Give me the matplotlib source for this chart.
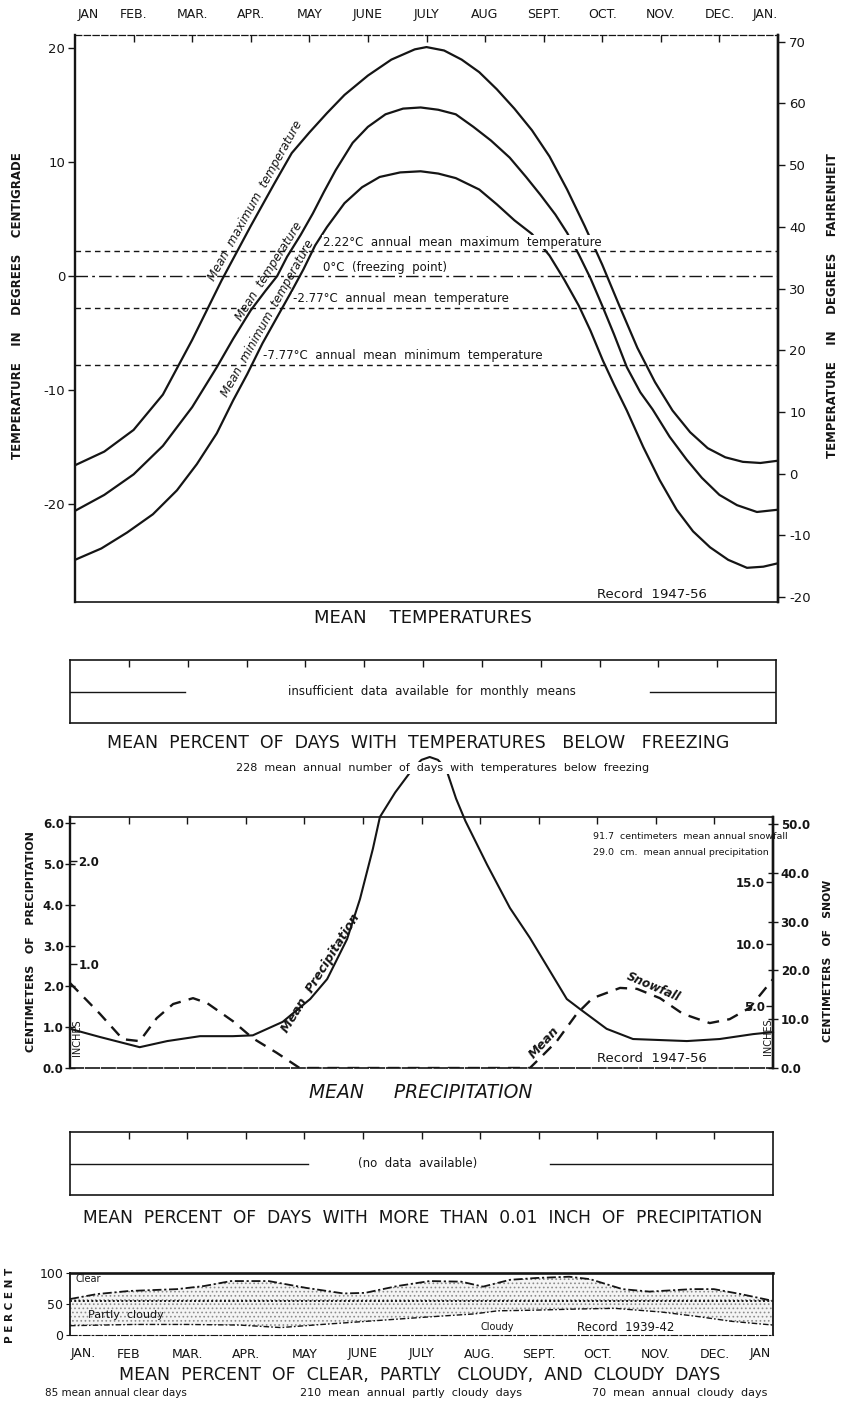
import numpy as np
import matplotlib
matplotlib.use("Agg")
from matplotlib import pyplot as plt

plt.rcParams["font.family"] = ["DejaVu Sans"]
plt.rcParams["hatch.linewidth"] = 0.7
plt.rcParams["hatch.color"] = "#8c8c8c"

W, H = 842, 1413
INK = "#151515"

# ---------------- data ----------------
months_top = ["JAN", "FEB.", "MAR.", "APR.", "MAY", "JUNE", "JULY", "AUG",
              "SEPT.", "OCT.", "NOV.", "DEC.", "JAN."]
months_bottom = ["JAN.", "FEB", "MAR.", "APR.", "MAY", "JUNE", "JULY", "AUG.",
                 "SEPT.", "OCT.", "NOV.", "DEC.", "JAN"]

# month position: 0 = JAN ... 12 = following JAN ; values in deg C
tmax_m = [0.0, 0.5, 1.0, 1.5, 2.0, 2.5, 3.0, 3.4, 3.7, 4.0, 4.3, 4.6, 5.0,
          5.4, 5.8, 6.0, 6.3, 6.6, 6.9, 7.2, 7.5, 7.8, 8.1, 8.4, 8.7, 9.0,
          9.3, 9.6, 9.9, 10.2, 10.5, 10.8, 11.1, 11.4, 11.7, 12.0]
tmax_c = [-16.6, -15.4, -13.5, -10.4, -5.6, -0.4, 4.4, 8.1, 10.8, 12.6, 14.3,
          15.9, 17.6, 19.0, 19.9, 20.1, 19.8, 19.0, 17.9, 16.4, 14.7, 12.8,
          10.5, 7.6, 4.4, 1.0, -2.7, -6.3, -9.3, -11.8, -13.7, -15.1, -15.9,
          -16.3, -16.4, -16.2]

tmean_m = [0.0, 0.5, 1.0, 1.5, 2.0, 2.42, 2.7, 3.0, 3.25, 3.45, 3.62, 3.85,
           4.06, 4.25, 4.45, 4.74, 5.0, 5.3, 5.6, 5.9, 6.2, 6.5, 6.8, 7.1,
           7.42, 7.7, 7.95, 8.2, 8.4, 8.6, 8.8, 9.0, 9.2, 9.42, 9.65, 9.86,
           10.15, 10.44, 10.7, 11.0, 11.3, 11.64, 12.0]
tmean_c = [-20.6, -19.2, -17.4, -14.9, -11.5, -8.0, -5.5, -3.0, -1.3, 0.0,
           1.7, 3.6, 5.5, 7.4, 9.3, 11.7, 13.1, 14.2, 14.7, 14.8, 14.6, 14.2,
           13.1, 11.9, 10.4, 8.7, 7.1, 5.4, 3.8, 1.9, -0.2, -2.6, -5.1, -8.0,
           -10.2, -11.7, -14.1, -16.1, -17.7, -19.2, -20.1, -20.7, -20.5]

tmin_m = [0.0, 0.45, 0.89, 1.33, 1.74, 2.08, 2.42, 2.7, 2.94, 3.2, 3.45,
          3.7, 3.9, 4.1, 4.3, 4.6, 4.9, 5.2, 5.55, 5.9, 6.2, 6.5, 6.9, 7.2,
          7.5, 7.8, 8.1, 8.35, 8.6, 8.8, 9.01, 9.2, 9.42, 9.7, 9.98, 10.27,
          10.55, 10.84, 11.15, 11.47, 11.75, 12.0]
tmin_c = [-24.9, -23.9, -22.5, -20.9, -18.8, -16.5, -13.8, -10.9, -8.6, -5.9,
          -3.6, -1.3, 0.6, 2.7, 4.3, 6.4, 7.8, 8.7, 9.1, 9.2, 9.0, 8.6, 7.6,
          6.3, 4.9, 3.7, 1.8, -0.3, -2.6, -4.8, -7.4, -9.5, -11.8, -15.0,
          -17.9, -20.5, -22.4, -23.8, -24.9, -25.6, -25.5, -25.2]

annual_values = [2.22, 0.0, -2.77, -7.77]
annual_labels = ["2.22°C  annual  mean  maximum  temperature",
                 "0°C  (freezing  point)",
                 "-2.77°C  annual  mean  temperature",
                 "-7.77°C  annual  mean  minimum  temperature"]
celsius_ticks = [20, 10, 0, -10, -20]
fahr_ticks = [70, 60, 50, 40, 30, 20, 10, 0, -10, -20]

# precipitation (cm) and snowfall (cm)
precip_m = [0.00, 0.51, 1.19, 1.66, 2.22, 2.78, 3.12, 3.63, 4.10, 4.39, 4.73,
            4.95, 5.17, 5.29, 5.55, 5.85, 6.0, 6.14, 6.28, 6.42, 6.59, 6.75,
            7.12, 7.51, 7.85, 8.14, 8.48, 8.70, 9.16, 9.61, 10.53, 11.09,
            11.66, 12.00]
precip_cm = [0.96, 0.76, 0.51, 0.66, 0.78, 0.78, 0.80, 1.13, 1.69, 2.18, 3.16,
             4.14, 5.37, 6.15, 6.75, 7.33, 7.55, 7.62, 7.55, 7.33, 6.60, 6.05,
             4.98, 3.92, 3.19, 2.50, 1.69, 1.45, 0.96, 0.71, 0.66, 0.71, 0.83,
             0.88]

snow_m = [0.00, 0.51, 0.90, 1.19, 1.48, 1.76, 2.10, 2.34, 2.78, 3.12, 3.53,
          3.92, 7.85, 8.02, 8.31, 8.65, 8.92, 9.39, 9.68, 10.07, 10.46, 10.92,
          11.26, 11.60, 12.00]
snow_cm = [17.4, 11.1, 5.9, 5.5, 10.2, 13.1, 14.3, 13.3, 9.6, 6.1, 3.1,
           0.0, 0.0, 2.0, 5.5, 11.1, 14.3, 16.4, 16.2, 14.3, 11.1, 9.2,
           10.0, 12.3, 18.2]

precip_ticks = [0, 1, 2, 3, 4, 5, 6]
precip_tick_labels = ["0.0", "1.0", "2.0", "3.0", "4.0", "5.0", "6.0"]
precip_inch_ticks = [1.0, 2.0]
snow_ticks = [0, 10, 20, 30, 40, 50]
snow_tick_labels = ["0.0", "10.0", "20.0", "30.0", "40.0", "50.0"]
snow_inch_ticks = [5.0, 10.0, 15.0]

# sky cover (percent)
cloud_top_m = [0.00, 0.46, 1.01, 1.83, 2.29, 2.75, 3.39, 4.03, 4.67, 5.04,
               5.59, 6.14, 6.68, 7.05, 7.51, 7.97, 8.52, 8.88, 9.43, 9.89,
               10.62, 10.99, 11.45, 12.00]
cloud_top_pct = [58, 66, 71, 74, 79, 87, 87, 76, 67, 68, 79, 87, 86, 78, 89,
                 92, 94, 90, 74, 70, 74, 74, 66, 55]
cloud_bot_m = [0.0, 1.1, 2.0, 2.9, 3.6, 4.3, 5.2, 6.1, 6.9, 7.3, 7.9, 8.7,
               9.3, 10.1, 10.7, 11.3, 12.0]
cloud_bot_pct = [15, 17, 17, 16, 12, 17, 23, 29, 34, 39, 40, 42, 43, 37, 30,
                 22, 16]
cloud_ref = 55

# "no data" stretches drawn in the empty boxes (month positions)
freeze_segments = [(0.0, 1.96), (9.86, 12.0)]
wetdays_segments = [(0.0, 4.07), (8.2, 12.0)]

# layout
month_ticks = list(range(1, 12))
month_label_pos = [0.22, 1, 2, 3, 4, 5, 6, 7, 8, 9, 10, 11, 11.78]
annual_label_x = [4.23, 4.23, 3.72, 3.21]

fig = plt.figure(figsize=(W / 100, H / 100), dpi=100)


def axes_px(left, top, right, bottom):
    return fig.add_axes([left / W, 1 - bottom / H, (right - left) / W,
                         (bottom - top) / H])


def fig_text(x, y, s, **kw):
    kw.setdefault("ha", "center")
    kw.setdefault("va", "center")
    kw.setdefault("color", INK)
    fig.text(x / W, 1 - y / H, s, **kw)


def curve_label(ax, xs, ys, at, text, offset, **kw):
    # text laid along a curve, shifted `offset` pixels to its left side
    p0 = ax.transData.transform((at - 0.2, np.interp(at - 0.2, xs, ys)))
    p1 = ax.transData.transform((at + 0.2, np.interp(at + 0.2, xs, ys)))
    ang = np.arctan2(p1[1] - p0[1], p1[0] - p0[0])
    c = ax.transData.transform((at, np.interp(at, xs, ys)))
    c = c + offset * np.array([-np.sin(ang), np.cos(ang)])
    x, y = ax.transData.inverted().transform(c)
    ax.text(x, y, text, rotation=np.degrees(ang), rotation_mode="anchor",
            ha="center", va="center", color=INK, **kw)


def month_frame(ax):
    ax.set_xlim(0, 12)
    ax.set_xticks(month_ticks)
    ax.tick_params(axis="x", top=True, bottom=False, direction="in",
                   length=5, width=1, labeltop=False, labelbottom=False,
                   color=INK)
    for side in ax.spines:
        ax.spines[side].set_color(INK)


# ---------------- mean temperatures ----------------
ax1 = axes_px(75, 35, 778, 602)
month_frame(ax1)
ax1.set_ylim(-28.6, 21.16)
ax1.spines["top"].set_linestyle((0, (5, 2)))
ax1.spines["top"].set_linewidth(0.9)
ax1.spines["left"].set_linewidth(1.7)
ax1.spines["right"].set_linewidth(1.7)
ax1.spines["bottom"].set_linewidth(1.2)
ax1.set_yticks(celsius_ticks, [str(v) for v in celsius_ticks])
ax1.tick_params(axis="y", direction="out", length=5, width=1, labelsize=9.5,
                pad=2, colors=INK)

top = ax1.secondary_xaxis("top")
top.set_xticks(month_label_pos, months_top)
top.tick_params(length=0, pad=10, labelsize=9, colors=INK)
top.spines["top"].set_visible(False)

for xs, ys in [(tmax_m, tmax_c), (tmean_m, tmean_c), (tmin_m, tmin_c)]:
    ax1.plot(xs, ys, color=INK, lw=1.6, zorder=3, solid_joinstyle="round")

styles = [(0, (4, 3)), (0, (9, 3, 2, 3)), (0, (4, 3)), (0, (4, 3))]
for val, lab, lx, ls in zip(annual_values, annual_labels, annual_label_x, styles):
    ax1.axhline(val, color=INK, lw=1.0, ls=ls, zorder=2)
    ax1.text(lx, val + 0.2, lab, fontsize=8.5, ha="left", va="bottom",
             color=INK, zorder=4,
             bbox=dict(fc="white", ec="none", pad=0.3))

curve_label(ax1, tmax_m, tmax_c, 3.2, "Mean  maximum  temperature", 8,
            fontsize=8.5, style="italic")
curve_label(ax1, tmean_m, tmean_c, 3.45, "Mean  temperature", 9,
            fontsize=8.5, style="italic")
curve_label(ax1, tmin_m, tmin_c, 3.4, "Mean  minimum  temperature", 8,
            fontsize=8.5, style="italic")
ax1.text(8.91, -27.97, "Record  1947-56", fontsize=9.5, ha="left",
         va="center", color=INK)

axF = ax1.twinx()
axF.set_ylim(-20.8, 71.1)
axF.set_yticks(fahr_ticks, [str(v) for v in fahr_ticks])
axF.tick_params(axis="y", direction="out", length=5, width=1, labelsize=9.5,
                pad=3, colors=INK)
for side in ["top", "bottom", "left"]:
    axF.spines[side].set_visible(False)
axF.spines["right"].set_linewidth(1.7)
axF.spines["right"].set_color(INK)

fig_text(18, 306, "TEMPERATURE    IN    DEGREES    CENTIGRADE", rotation=90,
         fontsize=8.5, fontweight="bold")
fig_text(832, 306, "TEMPERATURE    IN    DEGREES    FAHRENHEIT", rotation=90,
         fontsize=8.5, fontweight="bold")
fig_text(423, 618, "MEAN    TEMPERATURES", fontsize=13)

# ---------------- days below freezing ----------------
ax2 = axes_px(70, 660, 776, 723)
month_frame(ax2)
ax2.set_ylim(0, 1)
ax2.set_yticks([])
for side in ax2.spines:
    ax2.spines[side].set_linewidth(1.2)
for a, b in freeze_segments:
    ax2.plot([a, b], [0.5, 0.5], color=INK, lw=1.0)
ax2.text(6.16, 0.5, "insufficient  data  available  for  monthly  means",
         fontsize=8.5, ha="center", va="center", color=INK)
fig_text(418, 743, "MEAN  PERCENT  OF  DAYS  WITH  TEMPERATURES   BELOW   FREEZING",
         fontsize=12.5)

# ---------------- precipitation ----------------
ax3 = axes_px(70, 817, 773, 1068)
month_frame(ax3)
ax3.set_ylim(0, 6.15)
ax3.spines["left"].set_linewidth(1.7)
ax3.spines["right"].set_linewidth(1.7)
ax3.spines["top"].set_linewidth(1.2)
ax3.spines["bottom"].set_linewidth(1.2)
ax3.spines["bottom"].set_linestyle((0, (8, 1.5)))
ax3.set_yticks(precip_ticks, precip_tick_labels)
ax3.tick_params(axis="y", direction="inout", length=7, width=1, labelsize=8.5,
                pad=1, colors=INK)
for lbl in ax3.get_yticklabels():
    lbl.set_fontweight("bold")

inch_l = ax3.secondary_yaxis("left", functions=(lambda c: c / 2.54,
                                                 lambda i: i * 2.54))
inch_l.set_yticks(precip_inch_ticks, ["1.0", "2.0"])
inch_l.tick_params(direction="in", length=5, width=1, pad=-6, labelsize=8.5,
                   colors=INK)
inch_l.spines["left"].set_visible(False)
for lbl in inch_l.get_yticklabels():
    lbl.set_ha("left")
    lbl.set_fontweight("bold")

ax3.plot(precip_m, precip_cm, color=INK, lw=1.5, clip_on=False, zorder=3,
         solid_joinstyle="round")
curve_label(ax3, precip_m, precip_cm, 4.4, "Mean  Precipitation", 8,
            fontsize=9, style="italic", fontweight="bold")

ax3s = ax3.twinx()
ax3s.set_ylim(0, 51.4)
ax3s.set_yticks(snow_ticks, snow_tick_labels)
ax3s.tick_params(axis="y", direction="inout", length=7, width=1,
                 labelsize=8.5, pad=2, colors=INK)
for lbl in ax3s.get_yticklabels():
    lbl.set_fontweight("bold")
for side in ["top", "bottom", "left"]:
    ax3s.spines[side].set_visible(False)
ax3s.spines["right"].set_linewidth(1.7)
ax3s.spines["right"].set_color(INK)
ax3s.plot(snow_m, snow_cm, color=INK, lw=1.7, ls=(0, (5, 3.5)), zorder=3)
curve_label(ax3s, snow_m, snow_cm, 8.2, "Mean", 8, fontsize=9,
            style="italic", fontweight="bold")
curve_label(ax3s, snow_m, snow_cm, 9.9, "Snowfall", 8, fontsize=8.5,
            style="italic", fontweight="bold")

inch_r = ax3s.secondary_yaxis("right", functions=(lambda c: c / 2.54,
                                                   lambda i: i * 2.54))
inch_r.set_yticks(snow_inch_ticks, ["5.0", "10.0", "15.0"])
inch_r.tick_params(direction="in", length=5, width=1, pad=-6, labelsize=8.5,
                   colors=INK)
inch_r.spines["right"].set_visible(False)
for lbl in inch_r.get_yticklabels():
    lbl.set_ha("right")
    lbl.set_fontweight("bold")

ax3.text(8.92, 5.66, "91.7  centimeters  mean annual snowfall",
         fontsize=6.8, ha="left", va="center", color=INK)
ax3.text(8.92, 5.27, "29.0  cm.  mean annual precipitation",
         fontsize=6.8, ha="left", va="center", color=INK)
ax3.text(8.99, 0.08, "Record  1947-56", fontsize=9.5, ha="left",
         va="bottom", color=INK)
ax3.text(0.12, 0.74, "INCHES", fontsize=7, rotation=90, ha="center",
         va="center", color=INK)
ax3.text(11.91, 0.76, "INCHES", fontsize=7, rotation=90, ha="center",
         va="center", color=INK)

fig_text(31, 942, "CENTIMETERS   OF   PRECIPITATION", rotation=90,
         fontsize=8, fontweight="bold")
fig_text(828, 961, "CENTIMETERS   OF   SNOW", rotation=90, fontsize=7.8,
         fontweight="bold")
fig_text(443, 768,
         "228  mean  annual  number  of  days  with  temperatures  below  freezing",
         fontsize=8, bbox=dict(fc="white", ec="none", pad=0.6))
fig_text(421, 1093, "MEAN     PRECIPITATION", fontsize=13.5, style="italic")

# ---------------- days with precipitation ----------------
ax4 = axes_px(70, 1132, 773, 1195)
month_frame(ax4)
ax4.set_ylim(0, 1)
ax4.set_yticks([])
for side in ax4.spines:
    ax4.spines[side].set_linewidth(1.2)
for a, b in wetdays_segments:
    ax4.plot([a, b], [0.5, 0.5], color=INK, lw=1.0)
ax4.text(5.94, 0.5, "(no  data  available)", fontsize=8.5, ha="center",
         va="center", color=INK)
fig_text(423, 1218,
         "MEAN  PERCENT  OF  DAYS  WITH  MORE  THAN  0.01  INCH  OF  PRECIPITATION",
         fontsize=12.3)

# ---------------- sky cover ----------------
ax5 = axes_px(70, 1273, 773, 1335)
ax5.set_xlim(0, 12)
ax5.set_ylim(0, 100)
for side in ax5.spines:
    ax5.spines[side].set_color(INK)
ax5.spines["top"].set_linewidth(1.9)
ax5.spines["bottom"].set_linestyle((0, (6, 2, 1.5, 2)))
ax5.spines["left"].set_linewidth(1.3)
ax5.spines["right"].set_linewidth(1.3)
ax5.set_yticks([0, 50, 100], ["0", "50", "100"])
ax5.tick_params(axis="y", direction="out", length=3, labelsize=9, pad=2,
                colors=INK)
ax5.set_xticks(month_label_pos, months_bottom)
ax5.tick_params(axis="x", length=0, pad=9, labelsize=9, colors=INK)

ax5.fill(np.concatenate([cloud_top_m, cloud_bot_m[::-1]]),
         np.concatenate([cloud_top_pct, cloud_bot_pct[::-1]]),
         facecolor="#f4f4f4", edgecolor="#8c8c8c", hatch="....", lw=0,
         zorder=1)
ax5.plot(cloud_top_m, cloud_top_pct, color=INK, lw=1.3,
         ls=(0, (5, 1.5, 1.2, 1.5)), zorder=3)
ax5.plot(cloud_bot_m, cloud_bot_pct, color=INK, lw=1.0,
         ls=(0, (4, 1.5, 1.2, 1.5)), zorder=3)
ax5.axhline(cloud_ref, color=INK, lw=1.4, ls=(0, (1, 1.2)), zorder=2)
ax5.text(0.1, 91, "Clear", fontsize=7, ha="left", va="center", color=INK)
ax5.text(0.3, 33, "Partly  cloudy", fontsize=8, ha="left", va="center",
         color=INK)
ax5.text(7.0, 13, "Cloudy", fontsize=7, ha="left", va="center", color=INK)
ax5.text(8.65, 12, "Record  1939-42", fontsize=8.5, ha="left", va="center",
         color=INK)

fig_text(10, 1305, "P E R C E N T", rotation=90, fontsize=7.5,
         fontweight="bold")
fig_text(420, 1375, "MEAN  PERCENT  OF  CLEAR,  PARTLY   CLOUDY,  AND  CLOUDY  DAYS",
         fontsize=12.5)
fig_text(45, 1393, "85 mean annual clear days", fontsize=7.5, ha="left")
fig_text(411, 1393, "210  mean  annual  partly  cloudy  days", fontsize=8)
fig_text(680, 1393, "70  mean  annual  cloudy  days", fontsize=8)

fig.savefig("out.png", dpi=100, facecolor="white")
